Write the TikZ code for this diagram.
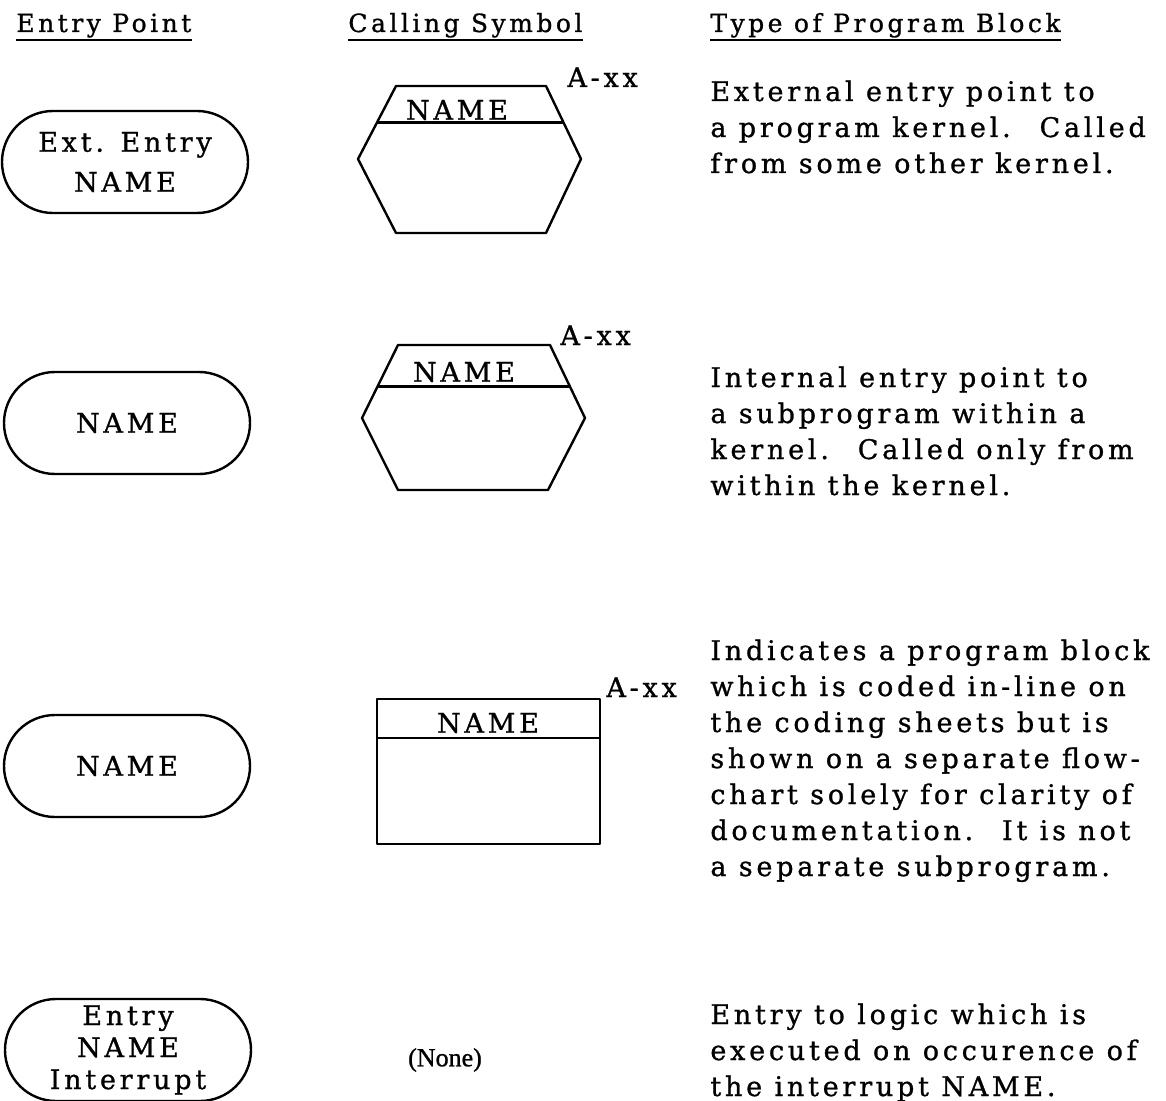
\documentclass[tikz,border=0pt]{standalone}
\usepackage{fontspec}
\setmainfont{DejaVu Serif}[LetterSpace=14, FakeBold=1]
\newfontfamily\nonefont{Liberation Serif}[FakeBold=1]
\usetikzlibrary{shapes.misc,calc}

\begin{document}
\begin{tikzpicture}[
  x=0.5pt, y=-0.5pt,
  txt/.style={font=\fontsize{13.5}{18}\selectfont, inner sep=0pt},
  head/.style={txt, font=\fontsize{12.5}{18}\selectfont, anchor=base west},
  entry/.style={draw, line width=1.2pt, rounded rectangle, minimum width=123pt, minimum height=51pt, align=center, txt},
  sym/.style={line width=1.2pt, line join=round},
  tag/.style={txt, anchor=base west},
  desc/.style={txt, anchor=base west, align=left}
]
\useasboundingbox (0,0) rectangle (1166,1101);

% column heads
\node[head] (hEntry) at (16,32) {Entry Point};
\node[head] (hCall) at (348,32) {Calling Symbol};
\node[head] (hType) at (710,32) {Type of Program Block};
\foreach \h in {hEntry,hCall,hType}
  \draw[line width=1pt] ([yshift=-4pt]\h.base west) -- ([yshift=-4pt]\h.base east);

% external entry (last baseline of each description given)
\node[entry, font=\fontsize{13.5}{20}\selectfont] (extEntry) at (125,162) {Ext. Entry\\NAME};
\coordinate (a1) at (396,86);  \coordinate (a2) at (546,86);
\coordinate (a3) at (581,159); \coordinate (a4) at (546,233);
\coordinate (a5) at (396,233); \coordinate (a6) at (358,159);
\draw[sym] (a1) -- (a2) -- (a3) -- (a4) -- (a5) -- (a6) -- cycle;
\draw[sym] ($(a1)!.5!(a6)$) -- ($(a2)!.5!(a3)$);
\node[txt] (extName) at (457,110) {NAME};
\node[tag] (extTag) at (567,87) {A-xx};
\node[desc] (extDesc) at (710,173) {External entry point to\\a program kernel.~ Called\\from some other kernel.};

% internal entry
\node[entry] (intEntry) at (127,423) {NAME};
\coordinate (b1) at (398,345); \coordinate (b2) at (550,345);
\coordinate (b3) at (585,418); \coordinate (b4) at (548,490);
\coordinate (b5) at (398,490); \coordinate (b6) at (362,418);
\draw[sym] (b1) -- (b2) -- (b3) -- (b4) -- (b5) -- (b6) -- cycle;
\draw[sym] ($(b1)!.57!(b6)$) -- ($(b2)!.57!(b3)$);
\node[txt] (intName) at (464,372) {NAME};
\node[tag] (intTag) at (560,345) {A-xx};
\node[desc] (intDesc) at (710,495) {Internal entry point to\\a subprogram within a\\kernel.~ Called only from\\within the kernel.};

% in-line block
\node[entry] (lineEntry) at (127,766) {NAME};
\draw[sym] (377,699) rectangle (600,844);
\draw[sym] (377,738) -- (600,738);
\node[txt] (lineName) at (488,723) {NAME};
\node[tag] (lineTag) at (606,697) {A-xx};
\node[desc] (lineDesc) at (710,876) {Indicates a program block\\which is coded in-line on\\the coding sheets but is\\shown on a separate flow-\\chart solely for clarity of\\documentation.~ It is not\\a separate subprogram.};

% interrupt entry
\node[entry, font=\fontsize{13.5}{16}\selectfont] (intrEntry) at (128,1050) {Entry\\NAME\\Interrupt};
\node[txt, font=\nonefont\fontsize{13}{18}\selectfont] (intrNone) at (445,1060) {(None)};
\node[desc] (intrDesc) at (710,1096) {Entry to logic which is\\executed on occurence of\\the interrupt NAME.};
\end{tikzpicture}
\end{document}
